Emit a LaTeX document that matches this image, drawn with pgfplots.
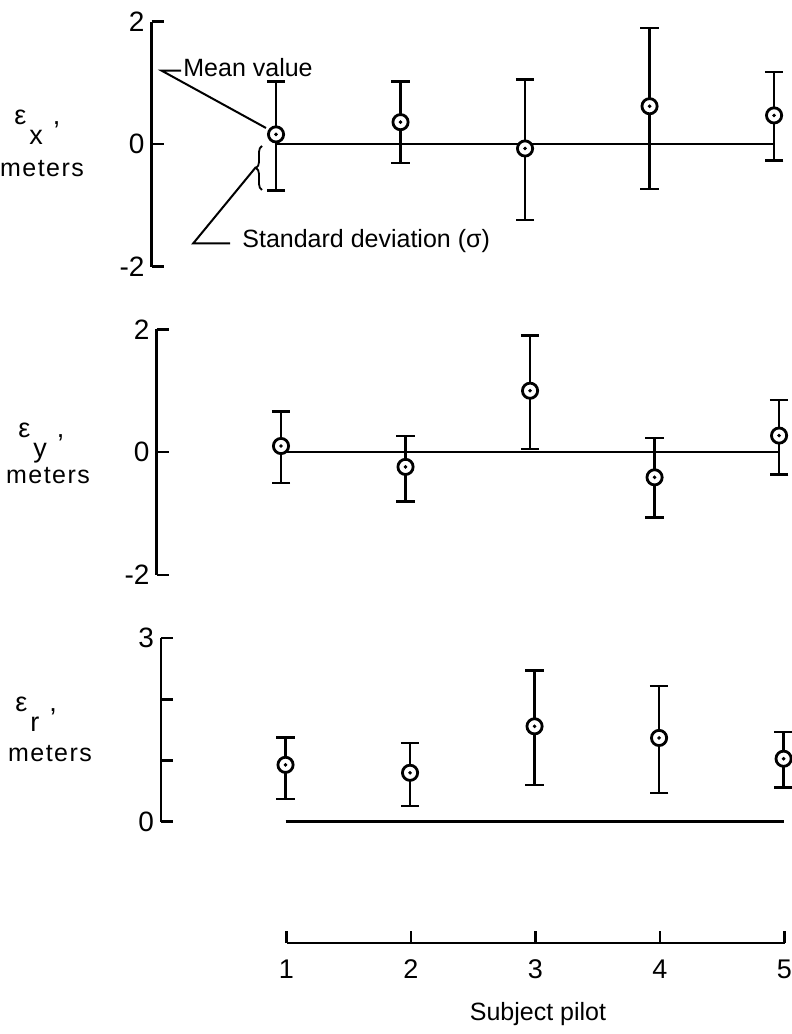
\documentclass[border=0pt]{standalone}
\usepackage{fontspec}
\setmainfont{Liberation Sans}
\usepackage{pgfplots}
\pgfplotsset{compat=1.18}
\usepackage{pgfplotstable}
\usetikzlibrary{decorations.pathreplacing}

% mean and one standard deviation (upper / lower) per subject pilot
\pgfplotstableread{
x y ep em
1 0.16 0.86 0.92
2 0.36 0.66 0.67
3 -0.07 1.13 1.17
4 0.62 1.28 1.35
5 0.47 0.71 0.74
}\errx
\pgfplotstableread{
x y ep em
1 0.10 0.56 0.60
2 -0.24 0.50 0.56
3 1.00 0.90 0.95
4 -0.41 0.64 0.65
5 0.27 0.58 0.63
}\erry
\pgfplotstableread{
x y ep em
1 0.93 0.45 0.56
2 0.80 0.49 0.54
3 1.56 0.91 0.96
4 1.37 0.85 0.90
5 1.03 0.44 0.47
}\errr

\pgfplotsset{
  pilot panel/.style={
    scale only axis, anchor=south west,
    width=314.4pt,
    xmin=0, xmax=5.05,
    axis x line=none,
    axis y line=left,
    axis line style={-, line width=1.3pt},
    tick align=inside,
    major tick length=6pt,
    every tick/.style={black, line width=1.2pt},
    yticklabel style={font=\fontsize{14}{15}\selectfont},
    clip=false,
  },
}

% error bars, open circles and centre dots for one table
\newcommand\pilotpoints[1]{%
  \addplot[black, only marks, mark=none,
    error bars/.cd, y dir=both, y explicit,
    error bar style={line width=1.2pt},
    error mark options={rotate=90, mark size=4.6pt, line width=1.3pt}]
    table[x=x, y=y, y error plus=ep, y error minus=em]{#1};
  \addplot[only marks, mark=*, mark size=3.8pt,
    mark options={fill=white, draw=black, line width=1.4pt}]
    table[x=x, y=y]{#1};
  \addplot[black, only marks, mark=*, mark size=0.7pt]
    table[x=x, y=y]{#1};
}

\begin{document}
\begin{tikzpicture}
\useasboundingbox (0,0) rectangle (396pt,517pt);

% longitudinal error
\begin{axis}[pilot panel, at={(75.75pt,383.65pt)}, height=122.5pt,
  ymin=-2, ymax=2, ytick={-2,0,2}, yticklabels={-2,0,2}]
  \addplot[black, line width=1.3pt, mark=none] coordinates {(1,0) (5,0)};
  \pilotpoints{\errx}
\end{axis}

% lateral error
\begin{axis}[pilot panel, at={(78.25pt,229.5pt)}, height=122.85pt,
  ymin=-2, ymax=2, ytick={-2,0,2}, yticklabels={-2,0,2}]
  \addplot[black, line width=1.3pt, mark=none] coordinates {(1,0) (5,0)};
  \pilotpoints{\erry}
\end{axis}

% radial error
\begin{axis}[pilot panel, at={(80.5pt,106.15pt)}, height=91.7pt,
  ymin=0, ymax=3, ytick={0,1,2,3}, yticklabels={0,,,3}]
  \addplot[black, line width=1.6pt, mark=none] coordinates {(1,0) (5,0)};
  \pilotpoints{\errr}
\end{axis}

% common pilot axis
\begin{axis}[scale only axis, anchor=south west, at={(143.25pt,45.5pt)},
  width=249pt, height=10pt, xmin=1, xmax=5, ymin=0, ymax=1,
  axis x line=bottom, axis y line=none,
  axis line style={-, line width=1.3pt},
  xtick={1,2,3,4,5}, xticklabels={1,2,3,4,5},
  tick align=inside, major tick length=6pt,
  every tick/.style={black, line width=1.2pt},
  xticklabel style={font=\fontsize{13.5}{14}\selectfont, yshift=-5pt}]
\end{axis}

\begin{scope}[shift={(0pt,517pt)}, x=0.5pt, y=-0.5pt,
  every node/.style={font=\fontsize{12.5}{14}\selectfont, inner sep=0pt}]
  \node[anchor=base west] at (14,125) {\fontsize{13.5}{14}\selectfont ε\kern1.5pt\raisebox{-10pt}{x}\kern5pt,};
  \node at (42,168.5) {\addfontfeature{LetterSpace=6}meters};
  \node[anchor=base west] at (18,438) {\fontsize{13.5}{14}\selectfont ε\kern1.5pt\raisebox{-10pt}{y}\kern5pt,};
  \node at (48,475.5) {\addfontfeature{LetterSpace=6}meters};
  \node[anchor=base west] at (15,712) {\fontsize{13.5}{14}\selectfont ε\kern1.5pt\raisebox{-10pt}{r}\kern5pt,};
  \node at (50,754) {\addfontfeature{LetterSpace=6}meters};

  \draw[line width=1pt] (181,70.7) -- (161.7,70.7) -- (266,128);
  \node[anchor=base west] at (183,77) {Mean value};
  \draw[line width=0.9pt, decorate, decoration={brace, amplitude=3pt}] (262,190) -- (262,146);
  \draw[line width=1pt] (256,167) -- (193.3,243.3) -- (230,243.3);
  \node[anchor=base west] at (242,248) {Standard deviation (σ)};

  \node[anchor=base] at (538,1021) {Subject pilot};
\end{scope}
\end{tikzpicture}
\end{document}
